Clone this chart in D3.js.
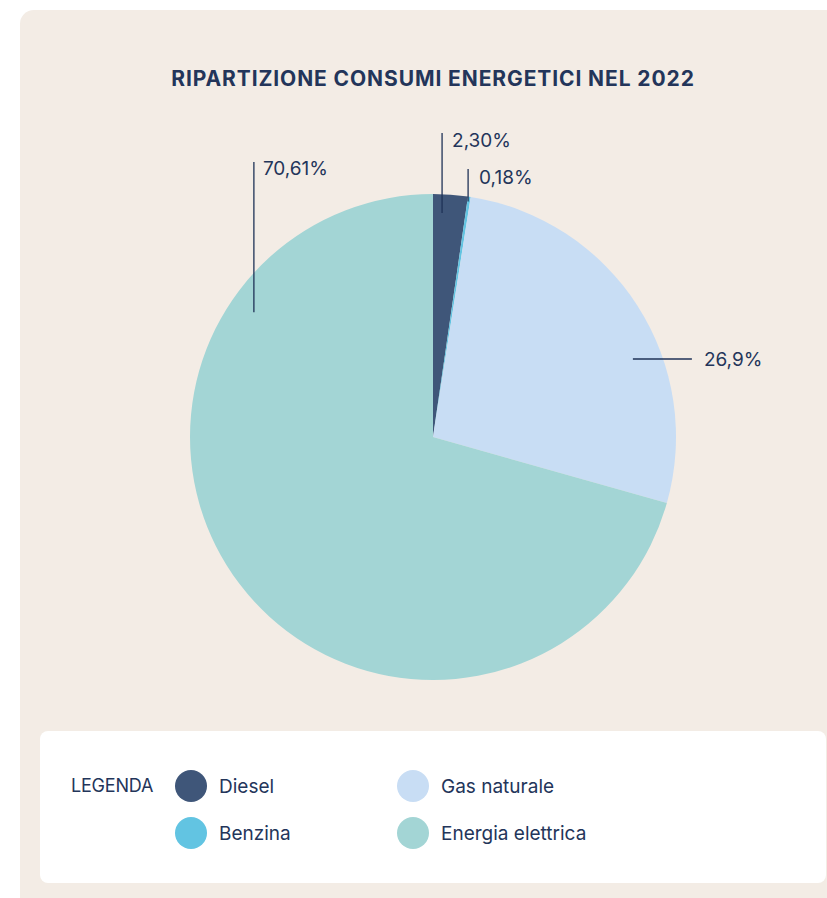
<!DOCTYPE html>
<html>
<head>
<meta charset="utf-8">
<script src="https://cdn.jsdelivr.net/npm/d3@7/dist/d3.min.js"></script>
<style>
  html, body { margin: 0; padding: 0; background: #ffffff; }
  svg { display: block; font-family: Inter, "Open Sans", sans-serif; }
</style>
</head>
<body>
<svg id="chart" width="827" height="898"></svg>
<script>
// Energy consumption share, 2022
const categories = ["Diesel", "Benzina", "Gas naturale", "Energia elettrica"];
const values = [2.30, 0.18, 26.9, 70.61];
const valueLabels = ["2,30%", "0,18%", "26,9%", "70,61%"];
const colors = ["#3f5679", "#62c4e2", "#c8ddf4", "#a3d5d5"];

const title = "RIPARTIZIONE CONSUMI ENERGETICI NEL 2022";
const legendTitle = "LEGENDA";

const ink = "#23355a";
const svg = d3.select("#chart");

// Panel background (runs off the right and bottom edges)
svg.append("rect")
  .attr("x", 20).attr("y", 10)
  .attr("width", 840).attr("height", 920)
  .attr("rx", 14)
  .attr("fill", "#f3ece5");

svg.append("text")
  .attr("x", 433).attr("y", 86)
  .attr("text-anchor", "middle")
  .attr("font-size", 21)
  .attr("font-weight", 700)
  .attr("letter-spacing", 0.9)
  .attr("fill", ink)
  .text(title);

// Pie
const cx = 433, cy = 437, R = 243;
const data = categories.map((c, i) => ({ name: c, value: values[i], label: valueLabels[i], color: colors[i] }));
const pie = d3.pie().value(d => d.value).sort(null);
const arc = d3.arc().innerRadius(0).outerRadius(R);
const arcs = pie(data);

const g = svg.append("g").attr("transform", `translate(${cx},${cy})`);
g.selectAll("path.slice")
  .data(arcs)
  .join("path")
  .attr("class", "slice")
  .attr("d", arc)
  .attr("fill", d => d.data.color);

// Leader lines and value labels, anchored inside each slice
function innerPoint(a, r, t) {
  const ang = a.startAngle + (a.endAngle - a.startAngle) * t;
  return [r * Math.sin(ang), -r * Math.cos(ang)];
}

const leaders = [
  { idx: 0, frac: 0.28, rIn: 0.923, type: "v", top: -304, tx: 10, ty: -297 },
  { idx: 1, frac: 0.3, rIn: 0.98, type: "v", top: -268, tx: 11, ty: -260 },
  { idx: 2, frac: 0.617, rIn: 0.883, type: "h", len: 59, tx: 12, ty: 0 },
  { idx: 3, frac: 0.783, rIn: 0.898, type: "v", top: -275, tx: 9, ty: -269 }
];

leaders.forEach(l => {
  const a = arcs[l.idx];
  const p = innerPoint(a, R * l.rIn, l.frac);
  let x2, y2, lx, ly;
  if (l.type === "v") {
    x2 = p[0]; y2 = l.top;
    lx = p[0] + l.tx; ly = l.ty;
  } else {
    x2 = p[0] + l.len; y2 = p[1];
    lx = x2 + l.tx; ly = p[1];
  }
  g.append("line")
    .attr("x1", p[0]).attr("y1", p[1])
    .attr("x2", x2).attr("y2", y2)
    .attr("stroke", "#1f3257")
    .attr("stroke-width", 1.3);
  g.append("text")
    .attr("x", lx).attr("y", ly)
    .attr("dy", "0.35em")
    .attr("font-size", 19)
    .attr("fill", ink)
    .text(a.data.label);
});

// Legend box
svg.append("rect")
  .attr("x", 40).attr("y", 731)
  .attr("width", 786).attr("height", 152)
  .attr("rx", 8)
  .attr("fill", "#ffffff");

svg.append("text")
  .attr("x", 71).attr("y", 786)
  .attr("dy", "0.35em")
  .attr("font-size", 18)
  .attr("letter-spacing", -0.2)
  .attr("fill", ink)
  .text(legendTitle);

const legendX = d3.scalePoint().domain([0, 1]).range([191, 413]);
const legendY = d3.scalePoint().domain([0, 1]).range([786, 833]);

const items = svg.selectAll("g.legend-item")
  .data(data)
  .join("g")
  .attr("class", "legend-item")
  .attr("transform", (d, i) => `translate(${legendX(Math.floor(i / 2))},${legendY(i % 2)})`);

items.append("circle")
  .attr("r", 16)
  .attr("fill", d => d.color);

items.append("text")
  .attr("x", 28)
  .attr("dy", "0.35em")
  .attr("font-size", 19)
  .attr("fill", ink)
  .text(d => d.name);
</script>
</body>
</html>
